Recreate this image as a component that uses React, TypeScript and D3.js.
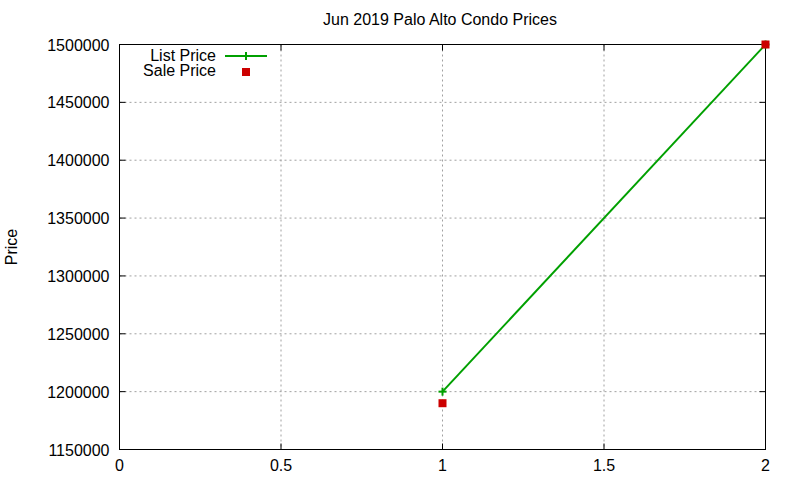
import React from "react";
import * as d3 from "d3";

const listX = [1, 2];
const listPrice = [1200000, 1500000];
const saleX = [1, 2];
const salePrice = [1190000, 1500000];
const xTicks = [0, 0.5, 1, 1.5, 2];
const yTicks = [1150000, 1200000, 1250000, 1300000, 1350000, 1400000, 1450000, 1500000];

export default function App() {
  const W = 800, H = 480;
  const L = 119.5, R = 765.5, T = 44.5, B = 449.5;
  const x = d3.scaleLinear().domain([0, 2]).range([L, R]);
  const y = d3.scaleLinear().domain([1150000, 1500000]).range([B, T]);
  const font = "Liberation Sans, Arial, sans-serif";
  const fs = 16;
  const green = "#00a000";
  const red = "#cc0000";
  const line = d3.line<number>().x((_, i) => x(listX[i])).y((d) => y(d));
  return (
    <div style={{ position: "absolute", left: 0, top: 0 }}>
      <svg width={W} height={H} style={{ display: "block", background: "#fff" }}>
        {/* grid */}
        {xTicks.slice(1, -1).map((t) => (
          <line key={"gx" + t} x1={x(t)} x2={x(t)} y1={T} y2={B} stroke="#a0a0a0" strokeDasharray="2,3" />
        ))}
        {yTicks.slice(1, -1).map((t) => (
          <line key={"gy" + t} x1={L} x2={R} y1={y(t)} y2={y(t)} stroke="#a0a0a0" strokeDasharray="2,3" />
        ))}
        {/* ticks */}
        {xTicks.map((t) => (
          <g key={"tx" + t}>
            <line x1={x(t)} x2={x(t)} y1={B} y2={B - 6} stroke="#000" />
            <line x1={x(t)} x2={x(t)} y1={T} y2={T + 6} stroke="#000" />
            <text x={x(t)} y={B + 21} textAnchor="middle" fontFamily={font} fontSize={fs}>{t}</text>
          </g>
        ))}
        {yTicks.map((t) => (
          <g key={"ty" + t}>
            <line x1={L} x2={L + 6} y1={y(t)} y2={y(t)} stroke="#000" />
            <line x1={R} x2={R - 6} y1={y(t)} y2={y(t)} stroke="#000" />
            <text x={L - 10} y={y(t) + 6} textAnchor="end" fontFamily={font} fontSize={fs}>{t}</text>
          </g>
        ))}
        <rect x={L} y={T} width={R - L} height={B - T} fill="none" stroke="#000" />
        {/* data */}
        <path d={line(listPrice) || ""} fill="none" stroke={green} strokeWidth={2} />
        {listPrice.map((v, i) => (
          <g key={"lp" + i} stroke={green} strokeWidth={2}>
            <line x1={x(listX[i]) - 4} x2={x(listX[i]) + 4} y1={y(v)} y2={y(v)} />
            <line x1={x(listX[i])} x2={x(listX[i])} y1={y(v) - 4} y2={y(v) + 4} />
          </g>
        ))}
        {salePrice.map((v, i) => (
          <rect key={"sp" + i} x={x(saleX[i]) - 4} y={y(v) - 4} width={8} height={8} fill={red} />
        ))}
        {/* legend */}
        <text x={216} y={61} textAnchor="end" fontFamily={font} fontSize={fs}>List Price</text>
        <line x1={225} x2={267} y1={56} y2={56} stroke={green} strokeWidth={2} />
        <line x1={242} x2={250} y1={56} y2={56} stroke={green} strokeWidth={2} />
        <line x1={246} x2={246} y1={52} y2={60} stroke={green} strokeWidth={2} />
        <text x={216} y={76} textAnchor="end" fontFamily={font} fontSize={fs}>Sale Price</text>
        <rect x={242} y={68} width={8} height={8} fill={red} />
        {/* title */}
        <text x={440} y={25} textAnchor="middle" fontFamily={font} fontSize={fs}>Jun 2019 Palo Alto Condo Prices</text>
        <text transform={`translate(17,247) rotate(-90)`} textAnchor="middle" fontFamily={font} fontSize={fs}>Price</text>
      </svg>
    </div>
  );
}
